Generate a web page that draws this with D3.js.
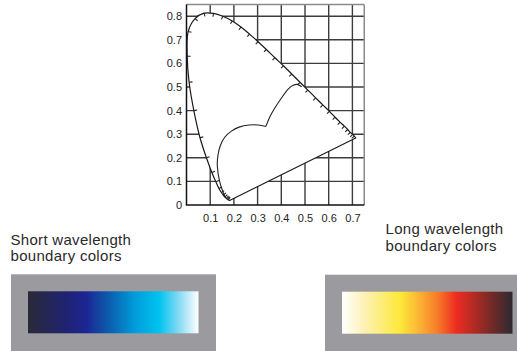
<!DOCTYPE html>
<html>
<head>
<meta charset="utf-8">
<script src="https://cdn.jsdelivr.net/npm/d3@7"></script>
<style>
  html, body { margin: 0; padding: 0; background: #ffffff; }
  svg { display: block; }
</style>
</head>
<body>
<svg id="chart" width="517" height="351"></svg>
<script>
// ---------- DATA ----------
// Spectral locus, nm labels for reference
const wavelengths = [430,440,445,450,455,460,465,470,475,480,485,490,495,500,505,510,515,520,525,530,535,540,545,550,555,560,565,570,575,580,585,590,595,600,605,610,615,620,625,630,635];
const locusX = [0.182,0.177,0.173,0.168,0.162,0.155,0.147,0.137,0.124,0.107,0.084,0.057,0.031,0.011,0.003,0.007,0.036,0.074,0.114,0.153,0.193,0.230,0.266,0.302,0.337,0.373,0.409,0.444,0.479,0.512,0.545,0.575,0.603,0.627,0.648,0.666,0.680,0.691,0.701,0.708,0.714];
const locusY = [0.019,0.021,0.024,0.028,0.034,0.042,0.053,0.070,0.098,0.138,0.200,0.285,0.400,0.520,0.630,0.735,0.790,0.813,0.812,0.800,0.780,0.754,0.724,0.692,0.659,0.624,0.590,0.555,0.520,0.487,0.454,0.424,0.397,0.372,0.351,0.334,0.320,0.308,0.299,0.292,0.284];

// Inner boundary curve: left lobe (to cusp) and right lobe (from cusp)
const innerLeftX  = [0.162,0.141,0.130,0.133,0.143,0.162,0.188,0.222,0.265,0.303,0.335];
const innerLeftY  = [0.035,0.095,0.165,0.212,0.252,0.288,0.312,0.330,0.339,0.339,0.333];
const innerRightX = [0.335,0.352,0.372,0.395,0.430,0.450,0.467,0.486];
const innerRightY = [0.333,0.374,0.410,0.445,0.492,0.507,0.511,0.501];

// Axes
const xTicks = [0.1,0.2,0.3,0.4,0.5,0.6,0.7];
const yTicks = [0,0.1,0.2,0.3,0.4,0.5,0.6,0.7,0.8];
const xDomain = [0, 0.75];
const yDomain = [0, 0.85];

// Gradient swatches
const shortStops = [0,0.22,0.34,0.48,0.62,0.77,0.88,1];
const shortColors = ["#2a2a38","#1f2370","#1c2593","#0b5fae","#009ad9","#00c3f0","#80d9f3","#ffffff"];
const longStops = [0,0.14,0.34,0.46,0.56,0.67,0.8,1];
const longColors = ["#ffffff","#fdf0b0","#fde93a","#fbb034","#f67c28","#ee2c20","#a22a24","#2c2a30"];

const labels = {
  short: ["Short wavelength", "boundary colors"],
  long: ["Long wavelength", "boundary colors"]
};

// ---------- DRAW ----------
const svg = d3.select("#chart");
const font = "'Liberation Sans', Arial, Helvetica, sans-serif";

const x = d3.scaleLinear().domain(xDomain).range([186.5, 364.25]);
const y = d3.scaleLinear().domain(yDomain).range([205, 4.4]);

const plot = svg.append("g");

// grid
plot.append("g").selectAll("line.v").data(xTicks).join("line")
  .attr("x1", d => x(d)).attr("x2", d => x(d))
  .attr("y1", y(0)).attr("y2", y(yDomain[1]))
  .attr("stroke", "#3c3c3c").attr("stroke-width", 1.4);
plot.append("g").selectAll("line.h").data(yTicks.filter(d => d > 0)).join("line")
  .attr("x1", x(0)).attr("x2", x(xDomain[1]))
  .attr("y1", d => y(d)).attr("y2", d => y(d))
  .attr("stroke", "#3c3c3c").attr("stroke-width", 1.4);

// frame top/right
plot.append("line").attr("x1", x(0)).attr("x2", x(xDomain[1])).attr("y1", y(yDomain[1])).attr("y2", y(yDomain[1]))
  .attr("stroke", "#8a8a8a").attr("stroke-width", 1.5);
plot.append("line").attr("x1", x(xDomain[1])).attr("x2", x(xDomain[1])).attr("y1", y(0)).attr("y2", y(yDomain[1]))
  .attr("stroke", "#8a8a8a").attr("stroke-width", 1.5);

const locus = locusX.map((d, i) => [x(d), y(locusY[i])]);
const lineGen = d3.line().curve(d3.curveCatmullRom.alpha(0.5));

// white fill of the gamut (covers grid)
plot.append("path").attr("d", lineGen(locus) + "Z")
  .attr("fill", "#ffffff").attr("stroke", "none");

// axis lines
plot.append("line").attr("x1", x(0)).attr("x2", x(0)).attr("y1", y(0)).attr("y2", y(yDomain[1]))
  .attr("stroke", "#111").attr("stroke-width", 1.5);
plot.append("line").attr("x1", x(0) - 0.75).attr("x2", x(xDomain[1])).attr("y1", y(0)).attr("y2", y(0))
  .attr("stroke", "#111").attr("stroke-width", 1.5);

// locus outline + purple line
plot.append("path").attr("d", lineGen(locus) + "Z")
  .attr("fill", "none").attr("stroke", "#1a1a1a").attr("stroke-width", 1.2).attr("stroke-linejoin", "round");

// ticks on locus
const cx = x(0.33), cy = y(0.33);
const tickData = locus.slice(1, locus.length - 1).map((p, k) => {
  const i = k + 1;
  const a = locus[i - 1], b = locus[i + 1];
  let tx = b[0] - a[0], ty = b[1] - a[1];
  const len = Math.hypot(tx, ty) || 1;
  tx /= len; ty /= len;
  let nx = -ty, ny = tx;
  if ((cx - p[0]) * nx + (cy - p[1]) * ny < 0) { nx = -nx; ny = -ny; }
  return { p, nx, ny };
});
plot.append("g").selectAll("line").data(tickData).join("line")
  .attr("x1", d => d.p[0]).attr("y1", d => d.p[1])
  .attr("x2", d => d.p[0] + d.nx * 3.4).attr("y2", d => d.p[1] + d.ny * 3.4)
  .attr("stroke", "#222").attr("stroke-width", 1.1);

// inner curve
const innerL = innerLeftX.map((d, i) => [x(d), y(innerLeftY[i])]);
const innerR = innerRightX.map((d, i) => [x(d), y(innerRightY[i])]);
plot.append("path").attr("d", lineGen(innerL)).attr("fill", "none").attr("stroke", "#222").attr("stroke-width", 1.1);
plot.append("path").attr("d", lineGen(innerR)).attr("fill", "none").attr("stroke", "#222").attr("stroke-width", 1.1);

// tick labels via axes
const yAxis = d3.axisLeft(y).tickValues(yTicks).tickSize(0).tickPadding(4.5)
  .tickFormat(d => d === 0 ? "0" : d3.format(".1f")(d));
const gy = svg.append("g").attr("transform", `translate(${x(0)},0)`).call(yAxis);
gy.select(".domain").remove();
gy.selectAll("text").attr("font-family", font).attr("font-size", 11).attr("fill", "#222");

const xAxis = d3.axisBottom(x).tickValues(xTicks).tickSize(0).tickPadding(9.5)
  .tickFormat(d3.format(".1f"));
const gx = svg.append("g").attr("transform", `translate(0,${y(0)})`).call(xAxis);
gx.select(".domain").remove();
gx.selectAll("text").attr("font-family", font).attr("font-size", 11).attr("fill", "#222");

// gradients
const defs = svg.append("defs");
function makeGrad(id, stops, colors) {
  const g = defs.append("linearGradient").attr("id", id).attr("x1", "0%").attr("x2", "100%").attr("y1", "0%").attr("y2", "0%");
  stops.forEach((s, i) => g.append("stop").attr("offset", s).attr("stop-color", colors[i]));
}
makeGrad("gShort", shortStops, shortColors);
makeGrad("gLong", longStops, longColors);

function swatch(gx0, gy0, gid) {
  svg.append("rect").attr("x", gx0).attr("y", gy0).attr("width", 205).attr("height", 77).attr("fill", "#9b9b9f");
  svg.append("rect").attr("x", gx0 + 17).attr("y", gy0 + 17).attr("width", 170.5).attr("height", 42).attr("fill", `url(#${gid})`);
}
swatch(11, 274.3, "gShort");
swatch(325, 274.7, "gLong");

// labels
function twoLines(lines, lx, ly, gap) {
  const t = svg.append("text").attr("font-family", font).attr("font-size", 15)
    .attr("letter-spacing", 0.3).attr("fill", "#2a2a2a");
  lines.forEach((s, i) => t.append("tspan").attr("x", lx).attr("y", ly + i * gap).text(s));
}
twoLines(labels.short, 10.5, 245, 15.5);
twoLines(labels.long, 385.5, 234, 16.5);
</script>
</body>
</html>
